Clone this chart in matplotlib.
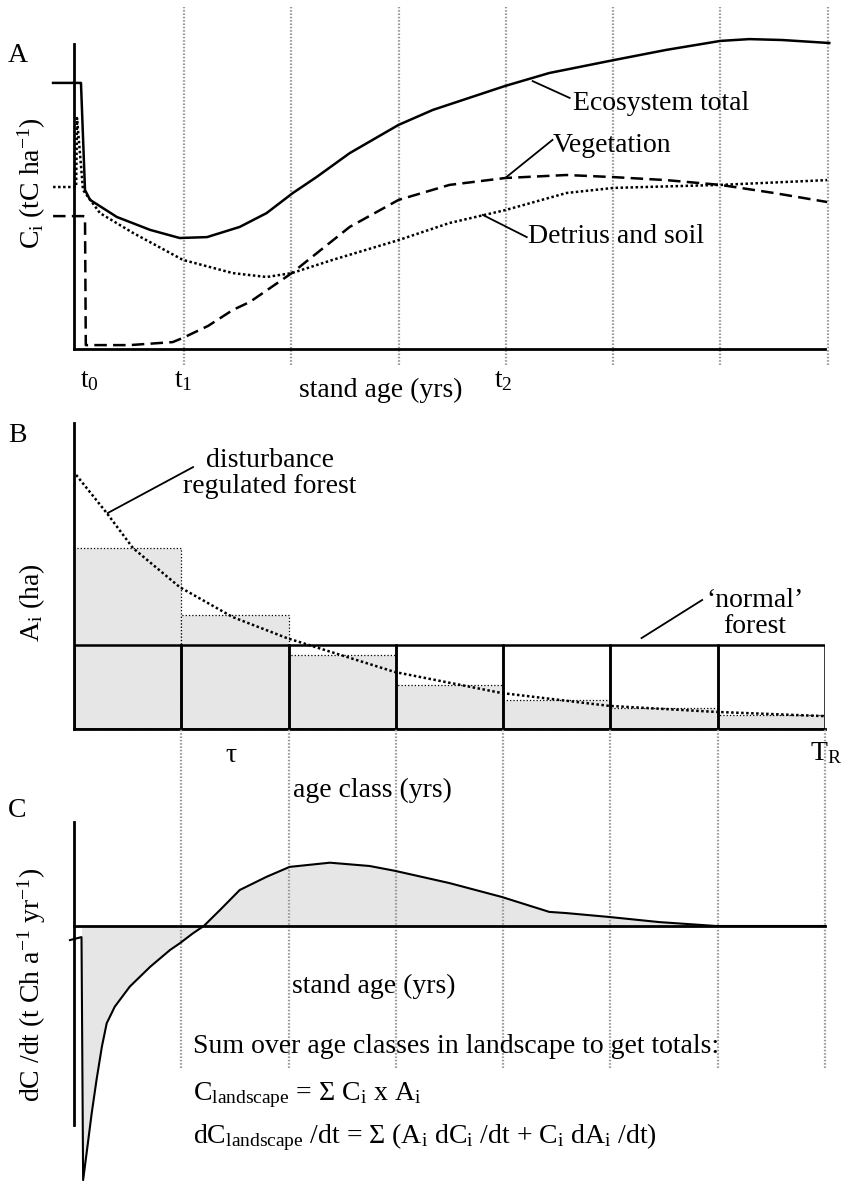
import matplotlib
matplotlib.use("Agg")
import matplotlib.pyplot as plt

plt.rcParams['font.family'] = ['Liberation Serif', 'DejaVu Serif']
plt.rcParams['mathtext.fontset'] = 'custom'
plt.rcParams['mathtext.rm'] = 'Liberation Serif'
plt.rcParams['mathtext.it'] = 'Liberation Serif:italic'
plt.rcParams['mathtext.default'] = 'regular'

# ---- panel A: carbon pools vs stand age (yrs, arbitrary C units)
total_age = [-3.9, 1.3, 2.05, 3.0, 8.0, 14.2, 19.7, 24.8, 30.9, 35.9, 40.8, 45.2,
             51.4, 60.5, 66.9, 80.4, 88.6, 100.6, 110.4, 120.5, 125.9, 132.0, 140.8]
total_c = [88.7, 88.7, 53.0, 49.7, 44.0, 39.7, 37.0, 37.3, 40.7, 45.3, 52.0, 57.3,
           65.3, 74.7, 79.7, 87.7, 92.0, 96.3, 99.7, 102.7, 103.3, 103.0, 102.0]
veg_age = [-3.9, 1.7, 2.05, 2.2, 10.4, 18.4, 20.3, 25.0, 29.6, 32.8, 40.6, 51.4,
           60.5, 70.0, 80.4, 91.8, 100.6, 110.4, 120.5, 130.5, 140.4]
veg_c = [44.3, 44.3, 44.0, 1.3, 1.3, 2.3, 3.7, 7.7, 13.0, 15.7, 25.3, 40.7,
         49.7, 54.7, 57.0, 58.0, 57.3, 56.3, 54.7, 52.0, 49.0]
soil_age = [-3.9, 0.4, 0.56, 1.68, 4.84, 11.0, 20.3, 29.6, 35.9, 40.6, 48.2,
            60.5, 70.0, 80.4, 91.8, 100.6, 120.5, 140.4]
soil_c = [54.0, 54.0, 77.0, 53.0, 45.3, 38.7, 29.7, 25.3, 24.0, 25.3, 29.7,
          36.3, 42.0, 46.3, 52.0, 53.7, 54.7, 56.3]

# ---- panel B: area per age class
class_edges = [0, 20, 40, 60, 80, 100, 120]
area_disturbed = [60.3, 38.0, 24.7, 14.7, 9.7, 7.0, 4.7]
area_normal = [28] * 7
expo_age = [0.4, 6.1, 11.0, 19.7, 29.6, 39.7, 59.8, 79.7, 99.8, 119.7, 139.8]
expo_area = [84.7, 72.0, 60.3, 47.3, 37.3, 30.3, 19.0, 12.0, 7.7, 5.7, 4.3]

# ---- panel C: flux vs stand age
flux_age = [-0.75, 1.4, 1.7, 2.5, 3.3, 4.2, 5.2, 6.1, 7.6, 10.4, 14.2, 17.9, 19.7,
            22.2, 24.2, 27.2, 30.9, 35.9, 40.2, 47.7, 55.1, 59.8, 70.0, 79.7,
            88.6, 91.8, 99.8, 109.1, 119.7, 140.0]
flux = [-4.7, -3.7, -84.7, -73.6, -62.4, -51.3, -40.2, -32.4, -26.9, -20.2, -13.6,
        -8.0, -5.8, -2.4, 0.0, 5.3, 12.0, 16.4, 19.7, 21.1, 20.0, 18.4, 14.3, 9.7,
        4.7, 4.3, 3.0, 1.3, 0.0, 0.0]

grid_pos = [20, 40, 60, 80, 100, 120, 140]

W, H = 845, 1183
fig = plt.figure(figsize=(W / 100, H / 100), dpi=100)


def add_ax(l, t, r, b):
    return fig.add_axes([l / W, 1 - b / H, (r - l) / W, (b - t) / H])


def txt(x, y, s, **kw):
    kw.setdefault('fontsize', 20)
    kw.setdefault('va', 'baseline')
    fig.text(x / W, 1 - y / H, s, **kw)


def clean(ax, ylo, yhi):
    for side in ['top', 'right']:
        ax.spines[side].set_visible(False)
    for side in ['left', 'bottom']:
        ax.spines[side].set_linewidth(2)
    ax.spines['left'].set_bounds(ylo, yhi)
    ax.spines['bottom'].set_bounds(0, 140)
    ax.set_xticks([])
    ax.set_yticks([])
    ax.patch.set_alpha(0)


grid_kw = dict(color='#999999', lw=1.6, ls=(0, (0.7, 0.8)), clip_on=False)

# Panel A
axA = add_ax(74, 5, 825, 349)
axA.set_xlim(0, 140)
axA.set_ylim(0, 114.67)
clean(axA, 0, 101.7)
for g in grid_pos:
    axA.plot([g + 0.5, g + 0.5], [-5.3, 114], zorder=0, **grid_kw)
axA.plot(total_age, total_c, color='black', lw=1.8, clip_on=False)
axA.plot(veg_age, veg_c, color='black', lw=1.8, ls=(0, (5, 2.5)), clip_on=False)
axA.plot(soil_age, soil_c, color='black', lw=1.8, ls=(0, (1, 1)), clip_on=False)
axA.plot([85.5, 92.4], [89.3, 83.7], color='black', lw=1.3)
axA.plot([80.6, 89.2], [57.3, 69.7], color='black', lw=1.3)
axA.plot([76.2, 84.4], [44.7, 37.3], color='black', lw=1.3)

txt(8, 62, 'A')
txt(573, 110, 'Ecosystem total')
txt(553, 152, 'Vegetation')
txt(528, 243, 'Detrius and soil')
txt(80, 387, 't$_0$')
txt(174, 387, 't$_1$')
txt(494, 387, 't$_2$')
txt(381, 397, 'stand age (yrs)', ha='center')
txt(32, 183, 'C$_i$ (tC ha$^{-1}$)', rotation=90, ha='center', va='center')

# Panel B
axB = add_ax(74, 405, 825, 729)
axB.set_xlim(0, 140)
axB.set_ylim(0, 108)
clean(axB, 0, 102)
axB.bar(class_edges, area_disturbed, width=20, align='edge', color='#e6e6e6',
        edgecolor='black', lw=0.9, ls=':')
axB.bar(class_edges, area_normal, width=20, align='edge', fill=False,
        edgecolor='black', lw=1.8)
axB.plot(expo_age, expo_area, color='black', lw=1.8, ls=(0, (1, 1)))
axB.plot([6.3, 22.2], [72, 87.3], color='black', lw=1.3)
axB.plot([105.8, 117.1], [30.3, 43], color='black', lw=1.3)

txt(8, 442, 'B')
txt(270, 467, 'disturbance', ha='center')
txt(270, 493, 'regulated forest', ha='center')
txt(755, 607, '\u2018normal\u2019', ha='center')
txt(755, 633, 'forest', ha='center')
txt(231, 762, '\u03c4', ha='center')
txt(810, 760, 'T$_R$')
txt(372, 797, 'age class (yrs)', ha='center')
txt(32, 603, 'A$_i$ (ha)', rotation=90, ha='center', va='center')

# Panel C
axC = add_ax(74, 790, 825, 1183)
axC.set_xlim(0, 140)
axC.set_ylim(-85.67, 45.33)
clean(axC, -66.33, 34.67)
axC.spines['bottom'].set_position(('data', 0))
axC.spines['bottom'].set_zorder(4)
axC.fill_between(flux_age[1:], flux[1:], 0, color='#e6e6e6', lw=0, zorder=1)
axC.plot(flux_age, flux, color='black', lw=1.5, clip_on=False, zorder=3)
for g in grid_pos:
    axC.plot([g, g], [-47.33, 65.67], zorder=2, **grid_kw)

txt(8, 817, 'C')
txt(374, 993, 'stand age (yrs)', ha='center')
txt(32, 985, 'dC /dt (t Ch a$^{-1}$ yr$^{-1}$)', rotation=90, ha='center', va='center')
txt(193, 1053, 'Sum over age classes in landscape to get totals:')
txt(193, 1100, 'C$_{landscape}$ = \u03a3 C$_i$ x A$_i$')
txt(193, 1143, 'dC$_{landscape}$ /dt = \u03a3 (A$_i$ dC$_i$ /dt + C$_i$ dA$_i$ /dt)')

fig.savefig('out.png', dpi=100)
